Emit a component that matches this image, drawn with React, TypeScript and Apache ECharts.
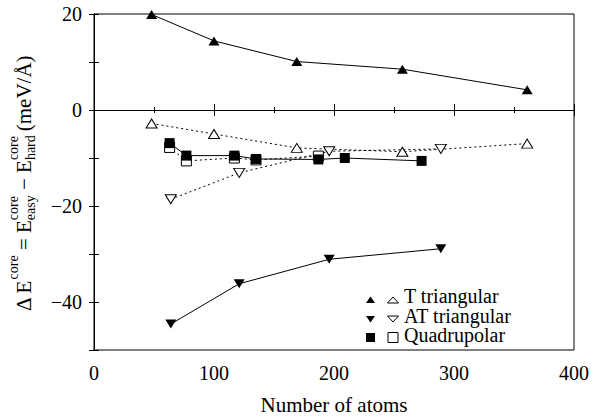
import React, { useEffect, useRef } from 'react';
import * as echarts from 'echarts';

const FONT = 'Liberation Serif';

const legendLabels = ['T triangular', 'AT triangular', 'Quadrupolar'];
const xAxisName = 'Number of atoms';

const xMin = 0;
const xMax = 400;
const xStep = 100;
const yMin = -50;
const yMax = 20;
const yStep = 10;

const tFilled = [[48, 19.9], [100, 14.4], [169, 10.1], [257, 8.5], [361, 4.2]];
const tOpen = [[48, -2.8], [100, -5.0], [169, -7.9], [257, -8.7], [361, -7.0]];
const atFilled = [[64, -44.6], [121, -36.2], [196, -31.1], [289, -28.9]];
const atOpen = [[64, -18.6], [121, -13.1], [196, -8.6], [289, -8.1]];
const qFilled = [[63, -6.9], [77, -9.5], [117, -9.5], [135, -10.2], [187, -10.3], [209, -10.0], [273, -10.6]];
const qOpen = [[63, -7.8], [77, -10.6], [117, -10.0], [135, -10.4], [187, -9.6]];

const fmtNum = (v: number) => (v < 0 ? '\u2212' + Math.abs(v) : String(v));

function buildYTitle() {
  const canvas = document.createElement('canvas');
  const ctx = canvas.getContext('2d')!;
  const M = 21;
  const S = 14;
  const w = (t: string, s: number) => {
    ctx.font = `${s}px ${FONT}`;
    return ctx.measureText(t).width;
  };
  const cen = (s: number) => -0.3375 * s;
  const supBase = -13;
  const subBase = 4;
  const parts: any[] = [
    { main: '\u0394 E' },
    { sup: 'core' },
    { main: ' = E' },
    { sup: 'core', sub: 'easy' },
    { main: ' \u2212 E' },
    { sup: 'core', sub: 'hard' },
    { gap: 4 },
    { main: '(meV/\u00c5)' },
  ];
  const children: any[] = [];
  let x = 0;
  const mk = (t: string, s: number, px: number, base: number) => ({
    type: 'text',
    x: px,
    y: base + cen(s),
    style: {
      text: t,
      fontSize: s,
      fontFamily: FONT,
      lineHeight: s,
      fill: '#000',
      align: 'left',
      verticalAlign: 'middle',
    },
  });
  for (const p of parts) {
    if (p.gap) {
      x += p.gap;
    } else if (p.main) {
      children.push(mk(p.main, M, x, 0));
      x += w(p.main, M);
    } else {
      let adv = 0;
      if (p.sup) {
        children.push(mk(p.sup, S, x, supBase));
        adv = Math.max(adv, w(p.sup, S));
      }
      if (p.sub) {
        children.push(mk(p.sub, S, x, subBase));
        adv = Math.max(adv, w(p.sub, S));
      }
      x += adv;
    }
  }
  return {
    type: 'group',
    x: 31,
    y: 311,
    rotation: Math.PI / 2,
    children,
  };
}

function buildLegend() {
  const items: any[] = [];
  const fx = 370.5;
  const ox = 393;
  const tx = 404;
  const fs = 20;
  const lh = 19.5;
  const baselines = [303, 303 + lh, 303 + 2 * lh];
  const top = baselines[0] - lh / 2 - 0.3375 * fs;
  let b = baselines[0];
  let cy = b - 3;
  items.push({ type: 'polygon', shape: { points: [[fx, cy - 3.5], [fx + 4.5, cy + 3], [fx - 4.5, cy + 3]] }, style: { fill: '#000' } });
  items.push({ type: 'polygon', shape: { points: [[ox, cy - 3], [ox + 5.5, cy + 3], [ox - 5.5, cy + 3]] }, style: { fill: '#fff', stroke: '#000', lineWidth: 1 } });
  b = baselines[1];
  cy = b - 3.5;
  items.push({ type: 'polygon', shape: { points: [[fx, cy + 3.5], [fx + 4.5, cy - 3], [fx - 4.5, cy - 3]] }, style: { fill: '#000' } });
  items.push({ type: 'polygon', shape: { points: [[ox, cy + 3], [ox + 5.5, cy - 3], [ox - 5.5, cy - 3]] }, style: { fill: '#fff', stroke: '#000', lineWidth: 1 } });
  b = baselines[2];
  cy = b - 4.5;
  items.push({ type: 'rect', shape: { x: fx - 4.5, y: cy - 4.5, width: 9, height: 9 }, style: { fill: '#000' } });
  items.push({ type: 'rect', shape: { x: ox - 5, y: cy - 5, width: 10, height: 10 }, style: { fill: '#fff', stroke: '#000', lineWidth: 1 } });
  items.push({
    type: 'text',
    x: tx,
    y: top,
    style: {
      text: legendLabels.join('\n'),
      fontSize: fs,
      fontFamily: FONT,
      lineHeight: lh,
      fill: '#000',
      align: 'left',
      verticalAlign: 'top',
    },
  });
  return items;
}

const openStyle = { color: '#fff', borderColor: '#000', borderWidth: 1 };
const filledStyle = { color: '#000', borderColor: '#000', borderWidth: 0 };
const dotted = { color: '#000', width: 1, type: [2, 3] as any };
const solid = { color: '#000', width: 1, type: 'solid' as any };

export default function App() {
  const ref = useRef<HTMLDivElement>(null);
  useEffect(() => {
    document.body.style.margin = '0';
    const chart = echarts.init(ref.current!, null, { renderer: 'svg' });
    const axisCommon = {
      axisLine: { show: true, lineStyle: { color: '#000', width: 1 } },
      splitLine: { show: false },
    };
    const option: any = {
      animation: false,
      backgroundColor: '#fff',
      textStyle: { fontFamily: FONT },
      grid: { left: 94, right: 20, top: 14, bottom: 63, show: true, borderColor: '#000', borderWidth: 1, containLabel: false },
      xAxis: [
        {
          type: 'value',
          min: xMin,
          max: xMax,
          interval: xStep,
          position: 'bottom',
          ...axisCommon,
          axisTick: { show: true, inside: true, length: 6, lineStyle: { color: '#000' } },
          minorTick: { show: true, splitNumber: 2, length: 3, lineStyle: { color: '#000' } },
          axisLabel: { show: true, margin: 13, color: '#000', fontSize: 20, fontFamily: FONT, formatter: fmtNum },
          name: xAxisName,
          nameLocation: 'middle',
          nameGap: 44,
          nameTextStyle: { color: '#000', fontSize: 21, fontFamily: FONT },
        },
        {
          type: 'value',
          min: xMin,
          max: xMax,
          interval: xStep,
          position: 'top',
          ...axisCommon,
          axisTick: { show: true, inside: true, length: 6, lineStyle: { color: '#000' } },
          minorTick: { show: true, splitNumber: 2, length: 3, lineStyle: { color: '#000' } },
          axisLabel: { show: false },
        },
      ],
      yAxis: [
        {
          type: 'value',
          min: yMin,
          max: yMax,
          interval: yStep,
          position: 'left',
          ...axisCommon,
          axisTick: { show: true, inside: true, length: 5, lineStyle: { color: '#000' } },
          axisLabel: {
            show: true,
            margin: 12,
            color: '#000',
            fontSize: 20,
            fontFamily: FONT,
            formatter: (v: number) => (v % 20 === 0 ? fmtNum(v) : ''),
          },
        },
        {
          type: 'value',
          min: yMin,
          max: yMax,
          interval: yStep,
          position: 'right',
          ...axisCommon,
          axisTick: { show: true, inside: true, length: 5, lineStyle: { color: '#000' } },
          axisLabel: { show: false },
        },
      ],
      series: [
        {
          name: legendLabels[0] + ' open',
          type: 'line',
          data: tOpen,
          symbol: 'triangle',
          symbolSize: [11, 9],
          itemStyle: openStyle,
          lineStyle: dotted,
          z: 2,
          markLine: {
            silent: true,
            symbol: 'none',
            label: { show: false },
            lineStyle: { color: '#000', width: 1, type: 'solid' },
            data: [{ yAxis: 0 }],
          },
        },
        {
          name: legendLabels[1] + ' open',
          type: 'line',
          data: atOpen,
          symbol: 'triangle',
          symbolRotate: 180,
          symbolSize: [11, 9],
          itemStyle: openStyle,
          lineStyle: dotted,
          z: 2,
        },
        {
          name: legendLabels[2] + ' open',
          type: 'line',
          data: qOpen,
          symbol: 'rect',
          symbolSize: 10,
          itemStyle: openStyle,
          lineStyle: dotted,
          z: 2,
        },
        {
          name: legendLabels[0],
          type: 'line',
          data: tFilled,
          symbol: 'triangle',
          symbolSize: [11, 9],
          itemStyle: filledStyle,
          lineStyle: solid,
          z: 3,
        },
        {
          name: legendLabels[1],
          type: 'line',
          data: atFilled,
          symbol: 'triangle',
          symbolRotate: 180,
          symbolSize: [11, 9],
          itemStyle: filledStyle,
          lineStyle: solid,
          z: 3,
        },
        {
          name: legendLabels[2],
          type: 'line',
          data: qFilled,
          symbol: 'rect',
          symbolSize: 10,
          itemStyle: filledStyle,
          lineStyle: solid,
          z: 3,
        },
      ],
      graphic: [buildYTitle(), ...buildLegend()],
    };
    chart.setOption(option);
    return () => chart.dispose();
  }, []);
  return <div ref={ref} style={{ width: 594, height: 420 }} />;
}
